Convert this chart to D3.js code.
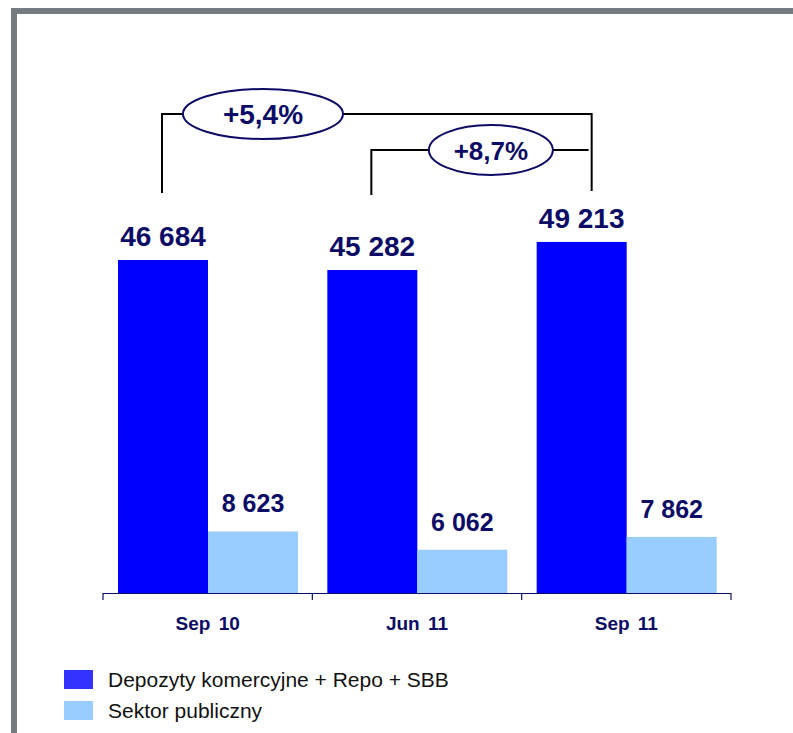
<!DOCTYPE html>
<html>
<head>
<meta charset="utf-8">
<script src="https://cdn.jsdelivr.net/npm/d3@7"></script>
<style>
  body { margin: 0; background: #fff; }
  svg { display: block; font-family: "Liberation Sans", Arial, sans-serif; }
</style>
</head>
<body>
<div id="chart"></div>
<script>
let categories = ["Sep 10", "Jun 11", "Sep 11"];
let series = ["Depozyty komercyjne + Repo + SBB", "Sektor publiczny"];
let commercial = [46684, 45282, 49213];
let publicSector = [8623, 6062, 7862];
let changes = [
  {from: "Sep 10", to: "Sep 11", label: "+5,4%"},
  {from: "Jun 11", to: "Sep 11", label: "+8,7%"}
];

let width = 793, height = 733;
let navy = "#0c0c66";
let barColors = ["#0000ff", "#99ccff"];
let legendColors = ["#3333ff", "#99ccff"];

let fmt = v => d3.format(",")(v).replace(/,/g, " ");

let svg = d3.select("#chart").append("svg")
    .attr("width", width)
    .attr("height", height);

// grey frame, cut off at the right and bottom edges
svg.append("rect")
    .attr("x", 14).attr("y", 11)
    .attr("width", width + 20).attr("height", height + 20)
    .attr("fill", "none")
    .attr("stroke", "#767b80")
    .attr("stroke-width", 6);

let x = d3.scaleBand().domain(categories).range([103, 731]);
let xs = d3.scaleBand().domain(series).range([15, 195]);
let y = d3.scaleLinear().domain([0, 60000]).range([593, 165]);

let rows = categories.map((c, i) => ({cat: c, values: [commercial[i], publicSector[i]]}));

let groups = svg.append("g").selectAll("g")
    .data(rows)
  .enter().append("g")
    .attr("transform", d => "translate(" + x(d.cat) + ",0)");

groups.selectAll("rect")
    .data(d => d.values.map((v, i) => ({s: series[i], v: v, i: i})))
  .enter().append("rect")
    .attr("x", d => xs(d.s))
    .attr("y", d => y(d.v))
    .attr("width", xs.bandwidth())
    .attr("height", d => y(0) - y(d.v))
    .attr("fill", d => barColors[d.i]);

groups.selectAll("text")
    .data(d => d.values.map((v, i) => ({s: series[i], v: v, i: i})))
  .enter().append("text")
    .attr("x", d => xs(d.s) + xs.bandwidth() / 2)
    .attr("y", d => y(d.v) - (d.i == 0 ? 14 : 19))
    .attr("text-anchor", "middle")
    .attr("font-weight", "bold")
    .attr("font-size", d => d.i == 0 ? 28 : 25)
    .attr("fill", navy)
    .text(d => fmt(d.v));

// axis
let axis = svg.append("g");
axis.append("line")
    .attr("x1", 103).attr("x2", 731)
    .attr("y1", y(0) + 0.5).attr("y2", y(0) + 0.5)
    .attr("stroke", navy).attr("stroke-width", 1.2);
axis.selectAll(".tick")
    .data(categories.concat(["end"]))
  .enter().append("line")
    .attr("x1", (d, i) => i < categories.length ? x(d) : x.range()[1])
    .attr("x2", (d, i) => i < categories.length ? x(d) : x.range()[1])
    .attr("y1", y(0)).attr("y2", y(0) + 7)
    .attr("stroke", navy).attr("stroke-width", 1.2);
axis.selectAll("text")
    .data(categories)
  .enter().append("text")
    .attr("x", d => x(d) + x.bandwidth() / 2)
    .attr("y", 630)
    .attr("text-anchor", "middle")
    .attr("font-weight", "bold")
    .attr("font-size", 19)
    .attr("fill", navy)
    .style("word-spacing", "3px")
    .text(d => d);

// change brackets
let bracketLevels = [114, 150];
let bracketBottom = 193;
let labelPos = [0.235, 0.55];
let ellipseR = [[80, 25], [62, 25]];
let bracketG = svg.append("g");
changes.forEach((c, i) => {
  let x1 = x(c.from) + xs(series[0]) + xs.bandwidth() / 2 - 1;
  let x2 = x(c.to) + xs(series[0]) + xs.bandwidth() / 2 + (i == 0 ? 10 : 7);
  let ly = bracketLevels[i];
  let path = "M" + x1 + "," + (bracketBottom + i * 2) + "V" + ly + "H" + x2;
  if (i == 0) path += "V" + (bracketBottom - 2);
  bracketG.append("path")
      .attr("d", path)
      .attr("fill", "none")
      .attr("stroke", "#000")
      .attr("stroke-width", 2);
  let cx = x1 + (x2 - x1) * labelPos[i];
  bracketG.append("ellipse")
      .attr("cx", cx).attr("cy", ly)
      .attr("rx", ellipseR[i][0]).attr("ry", ellipseR[i][1])
      .attr("fill", "#fff")
      .attr("stroke", navy)
      .attr("stroke-width", 2);
  bracketG.append("text")
      .attr("x", cx).attr("y", ly + 10)
      .attr("text-anchor", "middle")
      .attr("font-weight", "bold")
      .attr("font-size", i == 0 ? 28 : 26)
      .attr("fill", navy)
      .text(c.label);
});

// legend
let legend = svg.append("g").selectAll("g")
    .data(series)
  .enter().append("g")
    .attr("transform", (d, i) => "translate(64," + (670 + i * 31) + ")");
legend.append("rect")
    .attr("width", 29).attr("height", 19)
    .attr("fill", (d, i) => legendColors[i]);
legend.append("text")
    .attr("x", 44).attr("y", 17)
    .attr("font-size", 21)
    .attr("fill", "#111")
    .text(d => d);
</script>
</body>
</html>
